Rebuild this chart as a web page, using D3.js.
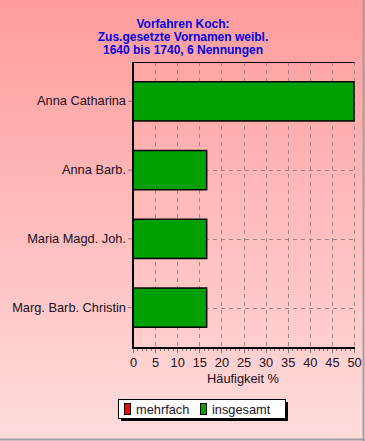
<!DOCTYPE html>
<html><head><meta charset="utf-8">
<script src="https://cdn.jsdelivr.net/npm/d3@7"></script>
<style>body{margin:0;padding:0;overflow:hidden}svg{display:block}</style>
</head><body>
<script>
const titleLines = ["Vorfahren Koch:", "Zus.gesetzte Vornamen weibl.", "1640 bis 1740, 6 Nennungen"];
const categories = ["Anna Catharina", "Anna Barb.", "Maria Magd. Joh.", "Marg. Barb. Christin"];
const insgesamt = [50, 16.67, 16.67, 16.67];
const mehrfach = [0, 0, 0, 0];
const xTicks = [0, 5, 10, 15, 20, 25, 30, 35, 40, 45, 50];
const xTitle = "Häufigkeit %";
const legendLabels = ["mehrfach", "insgesamt"];
const legendColors = ["#ff0000", "#00a000"];

const W = 365, H = 441;
const svg = d3.select("body").append("svg").attr("width", W).attr("height", H);
const defs = svg.append("defs");
const grad = defs.append("linearGradient").attr("id", "bg").attr("x1", 0).attr("y1", 0).attr("x2", 0).attr("y2", 1);
grad.append("stop").attr("offset", "0%").attr("stop-color", "#ff9c9c");
grad.append("stop").attr("offset", "100%").attr("stop-color", "#ffdcdc");
svg.append("rect").attr("width", W).attr("height", H).attr("fill", "url(#bg)");
svg.append("line").attr("x1", 0).attr("x2", W).attr("y1", H - 1.5).attr("y2", H - 1.5).attr("stroke", "#a0a0a0").attr("stroke-width", 2);
svg.append("line").attr("x1", W - 1.5).attr("x2", W - 1.5).attr("y1", 0).attr("y2", H).attr("stroke", "#a0a0a0").attr("stroke-width", 2);

const font = "'Liberation Sans', Arial, sans-serif";
const pL = 133, pR = 354, pT = 62, pB = 348;
const x = d3.scaleLinear().domain([0, 50]).range([pL, pR]);
const y = d3.scaleBand().domain(categories).range([67, 342]).paddingInner(0.43).paddingOuter(0.215);

// title
svg.append("g").selectAll("text").data(titleLines).join("text")
  .attr("x", 183).attr("y", (d, i) => 28 + i * 13)
  .attr("text-anchor", "middle").attr("font-family", font).attr("font-weight", "bold")
  .attr("font-size", 12).attr("fill", "#0000e0").text(d => d);

// grid
const grid = svg.append("g").attr("stroke", "#9a8585").attr("stroke-width", 1).attr("stroke-dasharray", "4,4");
grid.selectAll("line.v").data(xTicks.slice(1)).join("line").attr("class", "v")
  .attr("x1", d => Math.round(x(d)) + 0.5).attr("x2", d => Math.round(x(d)) + 0.5)
  .attr("y1", pT).attr("y2", pB);
grid.selectAll("line.h").data(categories).join("line").attr("class", "h")
  .attr("x1", pL).attr("x2", pR)
  .attr("y1", d => Math.round(y(d) + y.bandwidth() / 2) + 0.5).attr("y2", d => Math.round(y(d) + y.bandwidth() / 2) + 0.5);

// top border
svg.append("line").attr("x1", pL).attr("x2", pR + 0.5).attr("y1", pT + 0.5).attr("y2", pT + 0.5).attr("stroke", "#000");

// bars
svg.append("g").selectAll("rect").data(categories).join("rect")
  .attr("x", x(0)).attr("y", d => y(d))
  .attr("width", (d, i) => x(insgesamt[i]) - x(0)).attr("height", y.bandwidth())
  .attr("fill", "#00a000").attr("stroke", "#000").attr("stroke-width", 1.5);

// y axis
const yAxis = d3.axisLeft(y).tickSize(5).tickPadding(2);
const gy = svg.append("g").attr("transform", `translate(${pL},0)`).call(yAxis);
gy.select(".domain").remove();
gy.selectAll(".tick line").attr("stroke", "#777");
gy.selectAll(".tick text").attr("font-family", font).attr("font-size", 12.8).attr("fill", "#201020");
svg.append("line").attr("x1", pL).attr("x2", pL).attr("y1", pT).attr("y2", pB + 1).attr("stroke", "#000").attr("stroke-width", 2);

// x axis
const minor = d3.range(0, 51, 1);
svg.append("g").selectAll("line").data(minor).join("line")
  .attr("x1", d => Math.round(x(d)) + 0.5).attr("x2", d => Math.round(x(d)) + 0.5)
  .attr("y1", pB).attr("y2", d => pB + (d % 5 === 0 ? 5 : 3))
  .attr("stroke", "#777").attr("stroke-width", 1);
const xAxis = d3.axisBottom(x).tickValues(xTicks).tickSize(0).tickPadding(10);
const gx = svg.append("g").attr("transform", `translate(0,${pB})`).call(xAxis);
gx.select(".domain").remove();
gx.selectAll(".tick text").attr("font-family", font).attr("font-size", 12.8).attr("fill", "#201020");
svg.append("line").attr("x1", pL - 1).attr("x2", pR + 1).attr("y1", pB).attr("y2", pB).attr("stroke", "#000").attr("stroke-width", 2);

svg.append("text").attr("x", 243).attr("y", 383).attr("text-anchor", "middle")
  .attr("font-family", font).attr("font-size", 12.8).attr("fill", "#201020").text(xTitle);

// legend
const lg = svg.append("g");
lg.append("rect").attr("x", 121).attr("y", 402).attr("width", 167).attr("height", 19).attr("fill", "#000");
lg.append("rect").attr("x", 118.5).attr("y", 399.5).attr("width", 167).attr("height", 19).attr("fill", "#fff").attr("stroke", "#000");
const lx = [124, 200];
legendLabels.forEach((l, i) => {
  lg.append("rect").attr("x", lx[i] + 0.5).attr("y", 403.5).attr("width", 6).attr("height", 11)
    .attr("fill", legendColors[i]).attr("stroke", "#000");
  lg.append("text").attr("x", lx[i] + 12).attr("y", 413.5).attr("font-family", font).attr("font-size", 12.8)
    .attr("fill", "#201020").text(l);
});
</script>
</body></html>
